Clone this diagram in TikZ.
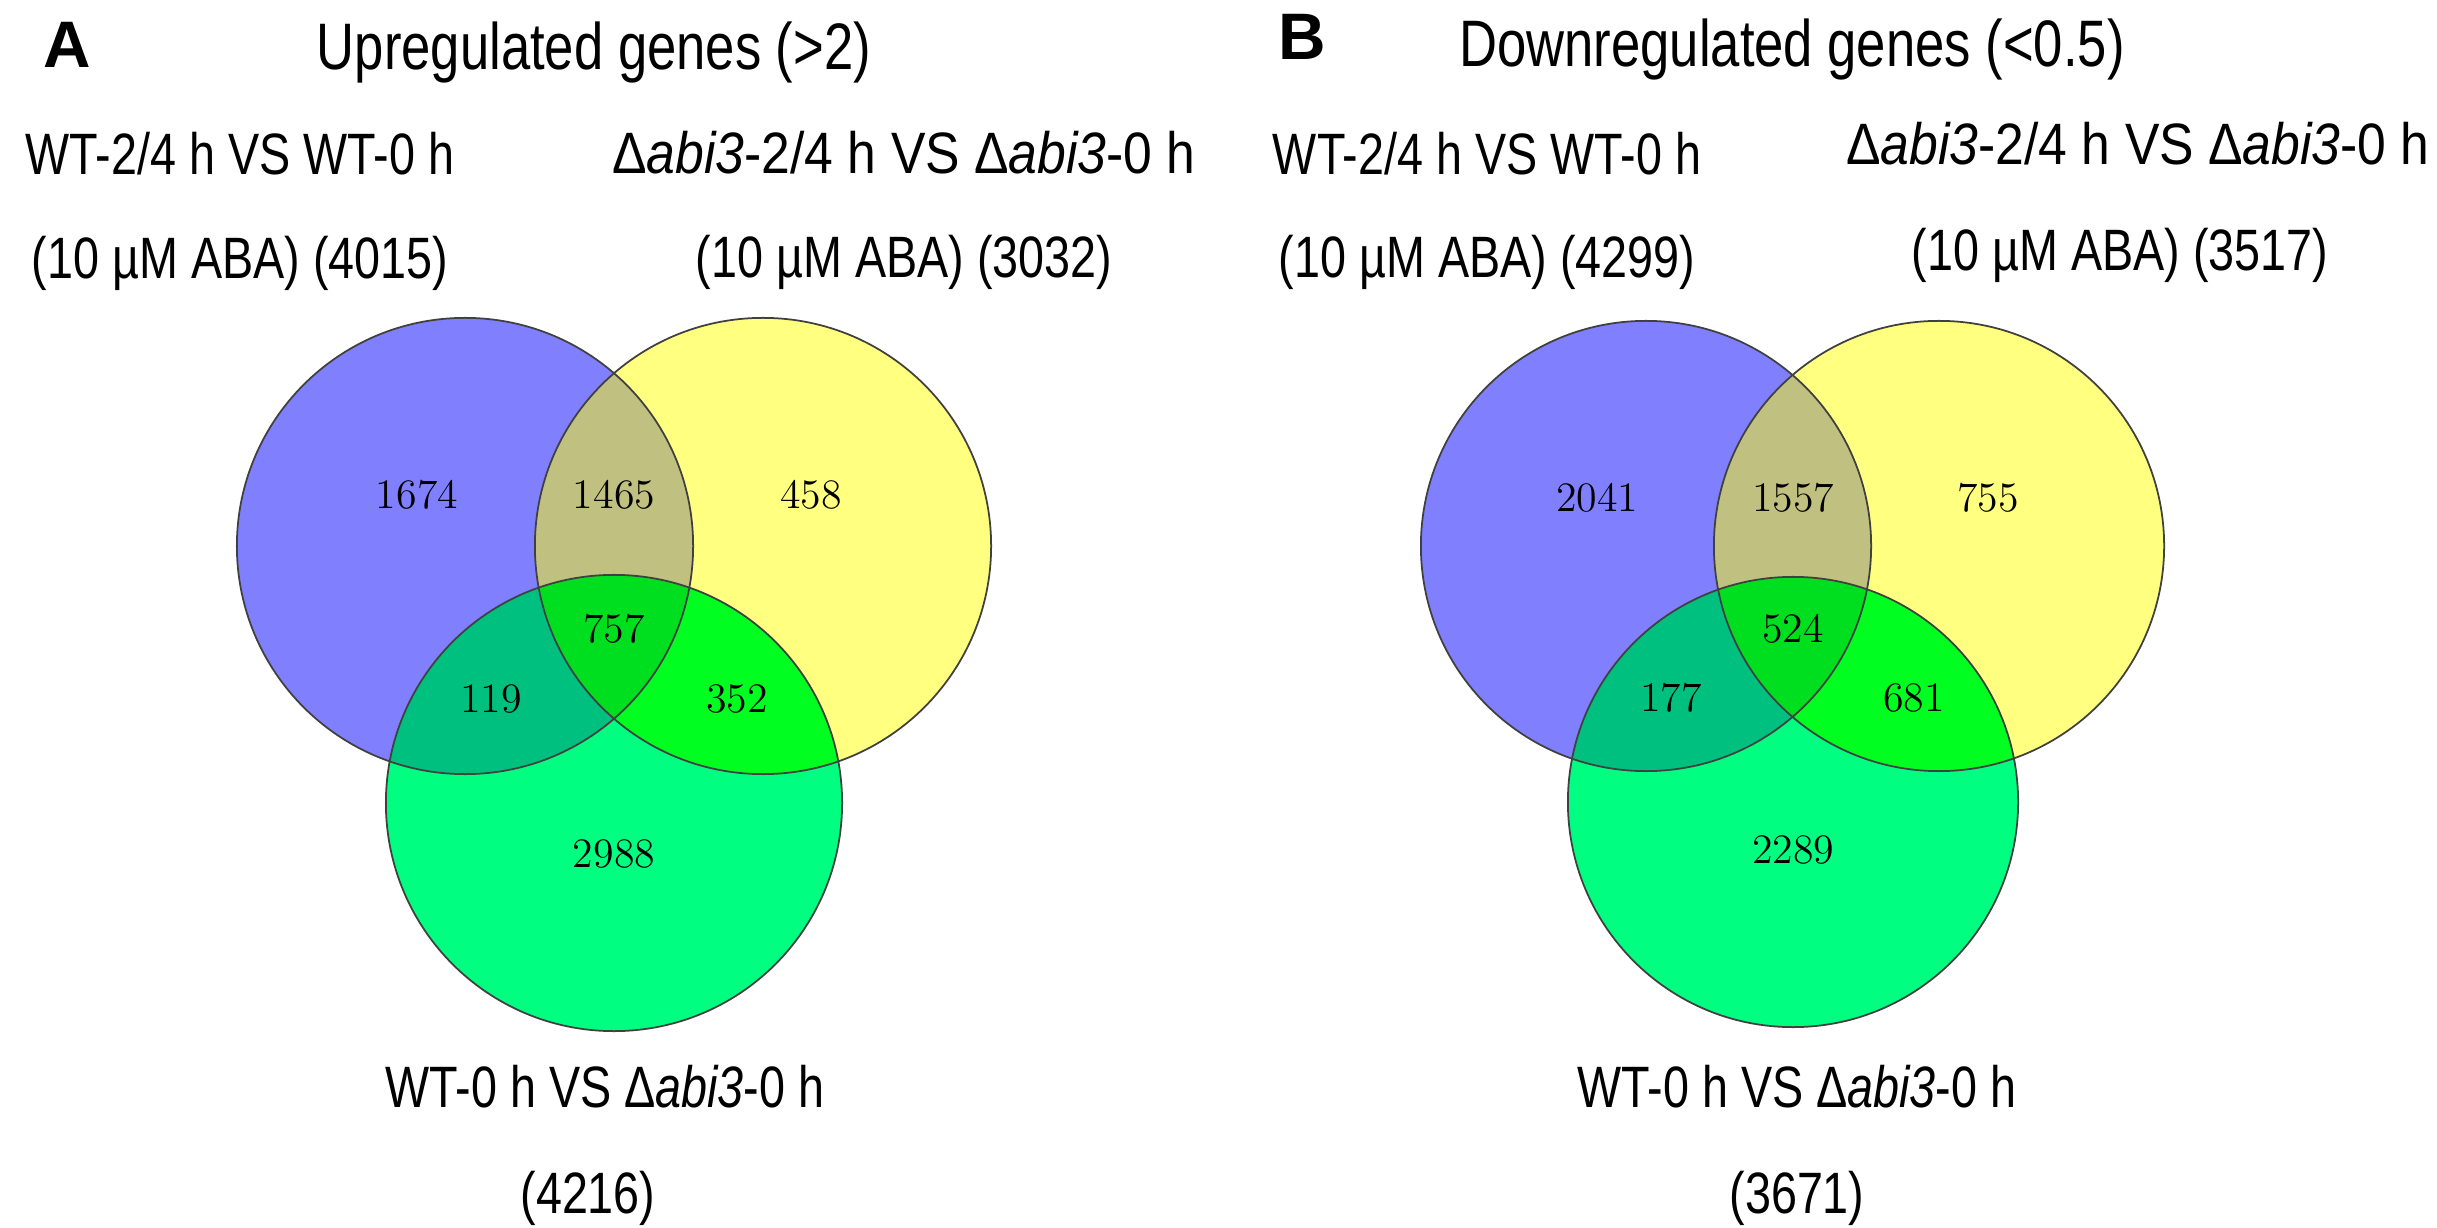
\documentclass[tikz,border=0pt]{standalone}
\usepackage{fontspec}
\newfontfamily\labelfont[FakeStretch=0.8]{Liberation Sans}
\newfontfamily\widelabelfont[FakeStretch=0.885]{Liberation Sans}
\newfontfamily\letterfont{Liberation Sans}
\usepackage{xcolor}
\usepackage{tikz}
\usetikzlibrary{positioning}

\definecolor{vennblue}{RGB}{128,128,255}
\definecolor{vennyellow}{RGB}{255,255,128}
\definecolor{venngreen}{RGB}{0,255,128}
\definecolor{vennby}{RGB}{192,192,128}
\definecolor{vennbg}{RGB}{0,192,128}
\definecolor{vennyg}{RGB}{0,255,32}
\definecolor{vennall}{RGB}{0,222,32}

\begin{document}
\begin{tikzpicture}[
    x=0.01cm, y=-0.01cm,
    ring/.style={draw=black!75, line width=0.5pt},
    count/.style={font=\fontsize{11.9}{14}\selectfont, inner sep=0pt},
    setname/.style={font=\labelfont\fontsize{16.6}{20}\selectfont, inner sep=0pt, anchor=base},
    widesetname/.style={setname, font=\widelabelfont\fontsize{16.6}{20}\selectfont},
    paneltitle/.style={font=\labelfont\fontsize{18.7}{22}\selectfont, inner sep=0pt, anchor=base},
    panelletter/.style={font=\letterfont\bfseries\fontsize{18.7}{22}\selectfont, inner sep=0pt, anchor=base west}
]
\useasboundingbox (0,0) rectangle (2437,1228);

% panel A: upregulated
\coordinate (a-wt) at (465,546);
\coordinate (a-ko) at (763,546);
\coordinate (a-zero) at (614,803);
\fill[vennblue] (a-wt) circle (2.28cm);
\fill[vennyellow] (a-ko) circle (2.28cm);
\fill[venngreen] (a-zero) circle (2.28cm);
\begin{scope}
    \clip (a-ko) circle (2.28cm);
    \fill[vennyg] (a-zero) circle (2.28cm);
\end{scope}
\begin{scope}
    \clip (a-wt) circle (2.28cm);
    \fill[vennby] (a-ko) circle (2.28cm);
    \fill[vennbg] (a-zero) circle (2.28cm);
    \clip (a-ko) circle (2.28cm);
    \fill[vennall] (a-zero) circle (2.28cm);
\end{scope}
\draw[ring] (a-wt) circle (2.28cm);
\draw[ring] (a-ko) circle (2.28cm);
\draw[ring] (a-zero) circle (2.28cm);

\node[count] (a-n1) at (417,495) {1674};
\node[count] (a-n2) at (614,495) {1465};
\node[count] (a-n3) at (811,495) {458};
\node[count] (a-n4) at (614,629) {757};
\node[count] (a-n5) at (491,699) {119};
\node[count] (a-n6) at (737,699) {352};
\node[count] (a-n7) at (614,854) {2988};

\node[panelletter] (a-letter) at (43,68) {A};
\node[paneltitle] (a-title) at (594,70) {Upregulated genes (>2)};
\node[setname] (a-wt-name) at (240,175) {WT-2/4 h VS WT-0 h};
\node[setname, below=1.03cm of a-wt-name.base, anchor=base] (a-wt-size) {(10 µM ABA) (4015)};
\node[widesetname] (a-ko-name) at (904,174) {Δ\textit{abi3}-2/4 h VS Δ\textit{abi3}-0 h};
\node[setname, below=1.03cm of a-ko-name.base, anchor=base] (a-ko-size) {(10 µM ABA) (3032)};
\node[setname] (a-zero-name) at (605,1107) {WT-0 h VS Δ\textit{abi3}-0 h};
\node[setname, below=1.06cm of a-zero-name.base, anchor=base, xshift=-0.17cm] (a-zero-size) {(4216)};

% panel B: downregulated
\coordinate (b-wt) at (1646,546);
\coordinate (b-ko) at (1939,546);
\coordinate (b-zero) at (1793,802);
\fill[vennblue] (b-wt) circle (2.25cm);
\fill[vennyellow] (b-ko) circle (2.25cm);
\fill[venngreen] (b-zero) circle (2.25cm);
\begin{scope}
    \clip (b-ko) circle (2.25cm);
    \fill[vennyg] (b-zero) circle (2.25cm);
\end{scope}
\begin{scope}
    \clip (b-wt) circle (2.25cm);
    \fill[vennby] (b-ko) circle (2.25cm);
    \fill[vennbg] (b-zero) circle (2.25cm);
    \clip (b-ko) circle (2.25cm);
    \fill[vennall] (b-zero) circle (2.25cm);
\end{scope}
\draw[ring] (b-wt) circle (2.25cm);
\draw[ring] (b-ko) circle (2.25cm);
\draw[ring] (b-zero) circle (2.25cm);

\node[count] (b-n1) at (1597,498) {2041};
\node[count] (b-n2) at (1793,498) {1557};
\node[count] (b-n3) at (1988,498) {755};
\node[count] (b-n4) at (1793,629) {524};
\node[count] (b-n5) at (1671,698) {177};
\node[count] (b-n6) at (1914,698) {681};
\node[count] (b-n7) at (1793,850) {2289};

\node[panelletter] (b-letter) at (1278,60) {B};
\node[paneltitle] (b-title) at (1792,67) {Downregulated genes (<0.5)};
\node[setname] (b-wt-name) at (1487,175) {WT-2/4 h VS WT-0 h};
\node[setname, below=1.02cm of b-wt-name.base, anchor=base] (b-wt-size) {(10 µM ABA) (4299)};
\node[widesetname] (b-ko-name) at (2138,165) {Δ\textit{abi3}-2/4 h VS Δ\textit{abi3}-0 h};
\node[setname, below=1.05cm of b-ko-name.base, anchor=base, xshift=-0.18cm] (b-ko-size) {(10 µM ABA) (3517)};
\node[setname] (b-zero-name) at (1797,1107) {WT-0 h VS Δ\textit{abi3}-0 h};
\node[setname, below=1.06cm of b-zero-name.base, anchor=base] (b-zero-size) {(3671)};
\end{tikzpicture}
\end{document}
